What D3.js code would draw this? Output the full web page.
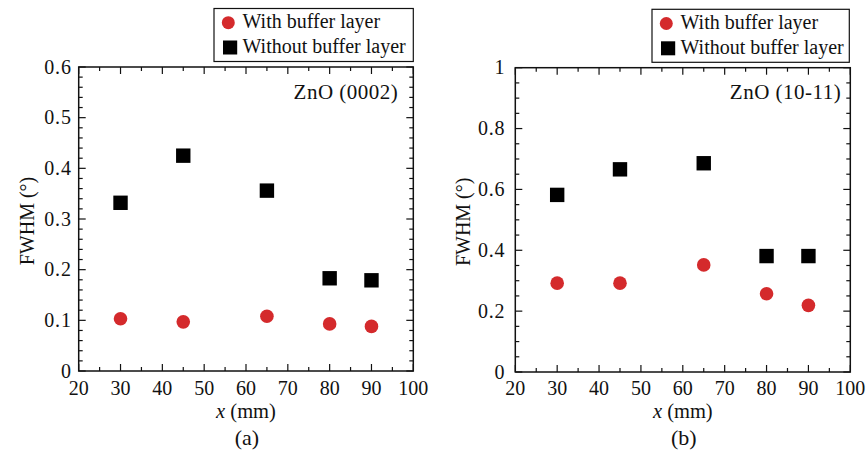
<!DOCTYPE html>
<html><head><meta charset="utf-8">
<script src="https://cdn.jsdelivr.net/npm/d3@7"></script>
<style>body{margin:0;background:#fff}svg{display:block}</style>
</head><body>
<svg id="c" width="867" height="456" font-family="Liberation Serif"></svg>
<script>
const xVals = [30, 45, 65, 80, 90];
const withA = [0.103, 0.097, 0.108, 0.093, 0.088];
const withoutA = [0.332, 0.425, 0.356, 0.183, 0.179];
const withB = [0.292, 0.292, 0.352, 0.257, 0.219];
const withoutB = [0.582, 0.666, 0.686, 0.381, 0.381];
const xTicks = [20, 30, 40, 50, 60, 70, 80, 90, 100];
const yTicksA = [0, 0.1, 0.2, 0.3, 0.4, 0.5, 0.6];
const yTicksB = [0, 0.2, 0.4, 0.6, 0.8, 1];
const seriesNames = ["With buffer layer", "Without buffer layer"];

const svg = d3.select("#c");
const red = "#d42a2c";

function panel(o) {
  const x = d3.scaleLinear().domain([20, 100]).range([o.left, o.right]);
  const y = d3.scaleLinear().domain([0, o.ymax]).range([o.bottom, o.top]);
  const g = svg.append("g").attr("fill", "#111");
  const xMinor = d3.range(20, 100.01, 5);
  const yMinor = d3.range(0, o.ymax + 1e-9, o.yMinorStep);
  const tk = (x1, y1, x2, y2) => g.append("line").attr("x1", x1).attr("y1", y1).attr("x2", x2).attr("y2", y2).attr("stroke", "#111").attr("stroke-width", 1.2);
  xMinor.forEach(v => {
    const major = xTicks.includes(v);
    const L = major ? 7 : 4;
    tk(x(v), o.bottom, x(v), o.bottom - L);
    tk(x(v), o.top, x(v), o.top + L);
  });
  yMinor.forEach(v => {
    const major = o.yTicks.some(t => Math.abs(t - v) < 1e-9);
    const L = major ? 7 : 4;
    tk(o.left, y(v), o.left + L, y(v));
    tk(o.right, y(v), o.right - L, y(v));
  });
  g.append("rect").attr("x", o.left).attr("y", o.top).attr("width", o.right - o.left).attr("height", o.bottom - o.top)
    .attr("fill", "none").attr("stroke", "#111").attr("stroke-width", 1.5);
  g.selectAll(".xl").data(xTicks).enter().append("text")
    .attr("x", d => x(d)).attr("y", 395).attr("text-anchor", "middle").attr("font-size", 20).text(d => d);
  g.selectAll(".yl").data(o.yTicks).enter().append("text")
    .attr("x", o.left - o.ygap).attr("y", d => y(d) + 6.5).attr("text-anchor", "end").attr("font-size", 20)
    .attr("letter-spacing", 0.8).text(d => d);
  const xt = g.append("text").attr("x", (o.left + o.right) / 2).attr("y", 418).attr("text-anchor", "middle").attr("font-size", 20.5);
  xt.append("tspan").attr("font-style", "italic").text("x");
  xt.append("tspan").text(" (mm)");
  g.append("text").attr("transform", `translate(${o.left - 45},${(o.top + o.bottom) / 2 + 2}) rotate(-90)`)
    .attr("text-anchor", "middle").attr("font-size", 20).text("FWHM (°)");
  g.append("text").attr("x", (o.left + o.right) / 2 + 1).attr("y", 445).attr("text-anchor", "middle").attr("font-size", 22).text(o.tag);
  g.append("text").attr("x", o.right - o.tgap).attr("y", 99).attr("text-anchor", "end").attr("font-size", 21)
    .attr("letter-spacing", 0.5).text(o.title);
  g.selectAll(".sq").data(xVals).enter().append("rect")
    .attr("x", (d) => x(d) - 7.2).attr("y", (d, i) => y(o.without[i]) - 7.2).attr("width", 14.4).attr("height", 14.4).attr("fill", "#000");
  g.selectAll(".ci").data(xVals).enter().append("circle")
    .attr("cx", d => x(d)).attr("cy", (d, i) => y(o.with[i])).attr("r", 6.8).attr("fill", red);
  const lg = g.append("g");
  lg.append("rect").attr("x", o.lx).attr("y", o.ly).attr("width", o.lw).attr("height", 53).attr("fill", "#fff").attr("stroke", "#111").attr("stroke-width", 1.2);
  lg.append("circle").attr("cx", o.lx + 14.3).attr("cy", o.ly + 14.2).attr("r", 6.5).attr("fill", red);
  lg.append("rect").attr("x", o.lx + 9).attr("y", o.ly + 32).attr("width", 14.2).attr("height", 14).attr("fill", "#000");
  lg.append("text").attr("x", o.lx + 28.5).attr("y", o.ly + 19.8).attr("font-size", 20).text(seriesNames[0]);
  lg.append("text").attr("x", o.lx + 28.5).attr("y", o.ly + 44.2).attr("font-size", 20).text(seriesNames[1]);
}

panel({left: 78.7, right: 413.3, top: 67, bottom: 371, ymax: 0.6, yMinorStep: 0.02, yTicks: yTicksA, ygap: 7,
  with: withA, without: withoutA, title: "ZnO (0002)", tgap: 15, tag: "(a)", lx: 214, ly: 8.5, lw: 199.3});
panel({left: 515.3, right: 850.3, top: 67.7, bottom: 372, ymax: 1, yMinorStep: 0.05, yTicks: yTicksB, ygap: 10,
  with: withB, without: withoutB, title: "ZnO (10-11)", tgap: 9, tag: "(b)", lx: 652, ly: 9.3, lw: 197.3});
</script>
</body></html>
